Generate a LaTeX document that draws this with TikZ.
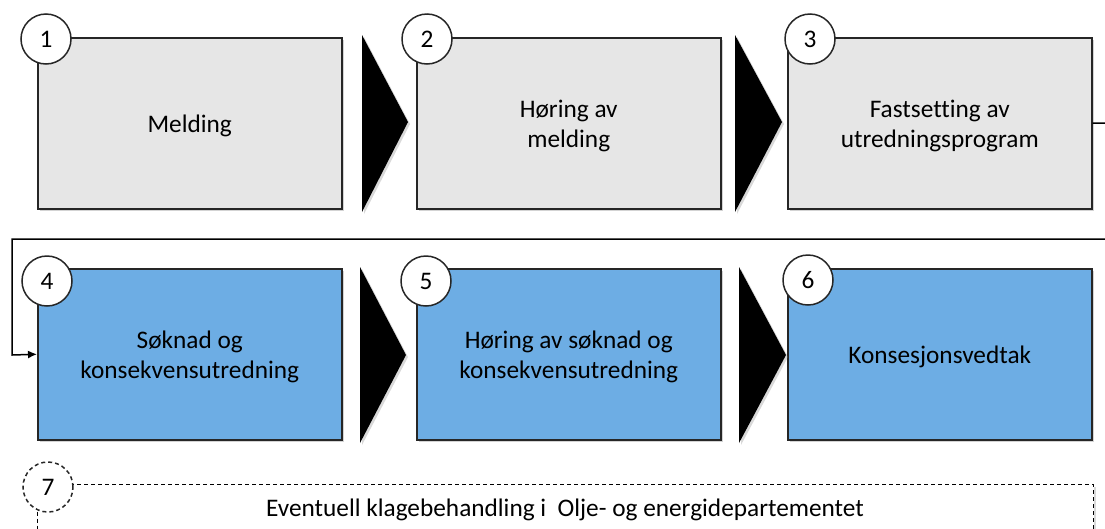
\documentclass[tikz,border=0pt]{standalone}
\usepackage{fontspec}
\setmainfont{Carlito}[Ligatures={NoCommon}]
\usetikzlibrary{arrows.meta,shadows}
\definecolor{boxgray}{HTML}{E6E6E6}
\definecolor{boxblue}{HTML}{6DADE4}
\definecolor{edge}{HTML}{262626}
\begin{document}
\begin{tikzpicture}[x=1pt,y=-1pt,
  txt/.style={font=\fontsize{25.3}{30}\selectfont},
  stepbox/.style={draw=edge,line width=1.5pt,minimum width=304pt,minimum height=171pt,anchor=north west,inner sep=0pt,
    drop shadow={opacity=0.35,shadow xshift=2pt,shadow yshift=-2pt}},
  boxtext/.style={txt,align=center,yshift=-2.5pt},
  graybox/.style={stepbox,fill=boxgray},
  bluebox/.style={stepbox,fill=boxblue},
  numcirc/.style={circle,draw=edge,line width=1.5pt,fill=white,minimum size=50pt,inner sep=0pt,txt},
  chev/.style={fill=black,drop shadow={opacity=0.3,shadow xshift=2pt,shadow yshift=-2pt}},
  conn/.style={draw=black,line width=1.5pt}
]
\useasboundingbox (0,0) rectangle (1105,528);
% row 1
\node[graybox] (b1) at (37,37) {};
\node[graybox] (b2) at (416,37) {};
\node[graybox] (b3) at (787,37) {};
% row 2
\node[bluebox] (b4) at (37,268) {};
\node[bluebox] (b5) at (416,268) {};
\node[bluebox] (b6) at (787,268) {};
% box texts
\node[boxtext] (t1) at (b1.center) {Melding};
\node[boxtext] (t2) at (b2.center) {Høring av\\melding};
\node[boxtext] (t3) at (b3.center) {Fastsetting av\\utredningsprogram};
\node[boxtext] (t4) at (b4.center) {Søknad og\\konsekvensutredning};
\node[boxtext] (t5) at (b5.center) {Høring av søknad og\\konsekvensutredning};
\node[boxtext] (t6) at (b6.center) {Konsesjonsvedtak};
% chevrons
\fill[chev] (362,35) -- (408,122) -- (362,212) -- cycle;
\fill[chev] (735,35) -- (782,122) -- (735,212) -- cycle;
\fill[chev] (360,267) -- (406,355) -- (360,443) -- cycle;
\fill[chev] (739,267) -- (786,355) -- (739,443) -- cycle;
% dashed box 7
\node[draw=black,fill=white,line width=1.3pt,dash pattern=on 4pt off 3pt,minimum width=1056pt,minimum height=80pt,anchor=north west,inner sep=0pt,
  drop shadow={opacity=0.3,shadow xshift=2pt,shadow yshift=-2pt}] (b7) at (37,484) {};
\node[txt,anchor=center] (t7) at (565,510) {Eventuell klagebehandling i\ \ Olje- og energidepartementet};
% connector from 3 to 4
\coordinate (r1) at (1112,123);
\coordinate (r2) at (1112,239);
\coordinate (l1) at (12,239);
\coordinate (l2) at (12,355);
\draw[conn,-{Latex[length=9pt,width=8pt]}] (b3.east) -- (r1) -- (r2) -- (l1) -- (l2) -- (b4.west);
% number circles
\node[numcirc] (n1) at (46,39) {1};
\node[numcirc] (n2) at (427,39) {2};
\node[numcirc] (n3) at (810,39) {3};
\node[numcirc] (n4) at (47,281) {4};
\node[numcirc] (n5) at (426,281) {5};
\node[numcirc] (n6) at (808,280) {6};
\node[numcirc,dash pattern=on 4pt off 3pt] (n7) at (48,487) {7};
\end{tikzpicture}
\end{document}
